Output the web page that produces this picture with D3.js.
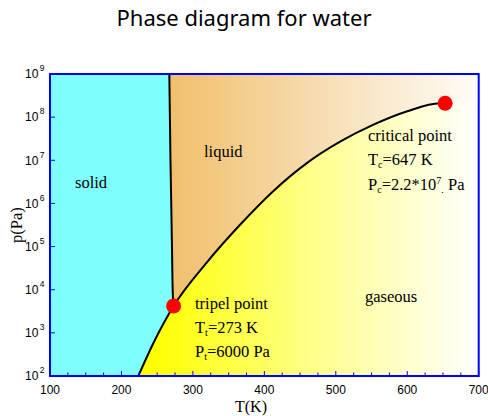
<!DOCTYPE html>
<html>
<head>
<meta charset="utf-8">
<script src="https://cdn.jsdelivr.net/npm/d3@7"></script>
<style>
  body { margin: 0; background: #fff; }
  svg { display: block; }
</style>
</head>
<body>
<svg width="488" height="416"></svg>
<script>
const width = 488;
const height = 416;

// values
const meltT = [267.0, 267.8, 268.6, 269.6, 270.8, 272.0, 273.0];
const meltP = [1e9, 1e8, 1e7, 1.2e6, 8e4, 7e3, 4200];

const vapT = [223.6, 244.6, 273.0, 319.0, 366.0, 412.0, 459.0, 506.0, 552.0, 599.0, 646.0, 653.0];
const vapP = [1e2, 575, 4200, 4.2e4, 3.2e5, 1.9e6, 8.5e6, 2.7e7, 6.6e7, 1.35e8, 2.1e8, 2.1e8];

const triple = {T: 273, p: 4200};
const critical = {T: 653, p: 2.1e8};

const xTicks = [100, 200, 300, 400, 500, 600, 700];
const xMinor = d3.range(100, 701, 25);
const yTicks = [1e2, 1e3, 1e4, 1e5, 1e6, 1e7, 1e8, 1e9];

const xScale = d3.scaleLinear()
    .domain([100, 700])
    .range([50, 478.7]);

const yScale = d3.scaleLog()
    .domain([1e2, 1e9])
    .range([376, 74]);

const svg = d3.select("svg");

// gradients
const defs = svg.append("defs");
const liqGrad = defs.append("linearGradient")
    .attr("id", "liqGrad")
    .attr("gradientUnits", "userSpaceOnUse")
    .attr("x1", xScale(270)).attr("x2", xScale(700))
    .attr("y1", 0).attr("y2", 0);
liqGrad.append("stop").attr("offset", 0).attr("stop-color", "#f0c06c");
liqGrad.append("stop").attr("offset", 0.5).attr("stop-color", "#f7deb4");
liqGrad.append("stop").attr("offset", 1).attr("stop-color", "#fffdf8");

const gasGrad = defs.append("linearGradient")
    .attr("id", "gasGrad")
    .attr("gradientUnits", "userSpaceOnUse")
    .attr("x1", xScale(240)).attr("x2", xScale(700))
    .attr("y1", 0).attr("y2", 0);
gasGrad.append("stop").attr("offset", 0).attr("stop-color", "#ffff00");
gasGrad.append("stop").attr("offset", 0.5).attr("stop-color", "#ffff8c");
gasGrad.append("stop").attr("offset", 1).attr("stop-color", "#ffffff");

const plot = svg.append("g");

// gaseous background
plot.append("rect")
    .attr("x", xScale(100))
    .attr("y", yScale(1e9))
    .attr("width", xScale(700) - xScale(100))
    .attr("height", yScale(1e2) - yScale(1e9))
    .attr("fill", "url(#gasGrad)");

// liquid: above vaporisation curve
const vapPts = vapT.map((t, i) => [t, vapP[i]]);
const liqPts = vapPts.concat([[700, critical.p]]);
plot.append("path")
    .datum(liqPts)
    .attr("fill", "url(#liqGrad)")
    .attr("d", d3.area()
        .x(d => xScale(d[0]))
        .y0(yScale(1e9))
        .y1(d => yScale(d[1]))
        .curve(d3.curveMonotoneX));

// solid: left of melting curve and of the low part of the vapour curve
const meltPts = meltT.map((t, i) => [t, meltP[i]]);
const subPts = vapPts.filter(d => d[0] <= triple.T);
const solidArea = d3.area()
    .y(d => yScale(d[1]))
    .x0(xScale(100))
    .x1(d => xScale(d[0]))
    .curve(d3.curveMonotoneY);
plot.append("path").datum(meltPts)
    .attr("fill", "#80ffff")
    .attr("d", solidArea);
plot.append("path").datum(subPts.slice().reverse())
    .attr("fill", "#80ffff")
    .attr("d", solidArea);

// boundary curves
plot.append("path")
    .datum(meltPts)
    .attr("fill", "none")
    .attr("stroke", "black")
    .attr("stroke-width", 2)
    .attr("d", d3.line()
        .x(d => xScale(d[0]))
        .y(d => yScale(d[1]))
        .curve(d3.curveMonotoneY));

plot.append("path")
    .datum(vapPts)
    .attr("fill", "none")
    .attr("stroke", "black")
    .attr("stroke-width", 2)
    .attr("d", d3.line()
        .x(d => xScale(d[0]))
        .y(d => yScale(d[1]))
        .curve(d3.curveMonotoneX));

// special points
plot.selectAll("circle.pt")
    .data([triple, critical])
    .enter().append("circle")
    .attr("class", "pt")
    .attr("cx", d => xScale(d.T))
    .attr("cy", d => yScale(d.p))
    .attr("r", 7.5)
    .attr("fill", "#ff0000");

// frame
svg.append("rect")
    .attr("x", xScale(100))
    .attr("y", yScale(1e9))
    .attr("width", xScale(700) - xScale(100))
    .attr("height", yScale(1e2) - yScale(1e9))
    .attr("fill", "none")
    .attr("stroke", "#0000ff")
    .attr("stroke-width", 2);

// ticks, pointing inwards
svg.append("g").selectAll("line")
    .data(xMinor)
    .enter().append("line")
    .attr("x1", d => xScale(d)).attr("x2", d => xScale(d))
    .attr("y1", yScale(1e2))
    .attr("y2", d => yScale(1e2) - (d % 100 === 0 ? 5 : 3.5))
    .attr("stroke", "#0000ff")
    .attr("stroke-width", 1);

svg.append("g").selectAll("line")
    .data(yTicks)
    .enter().append("line")
    .attr("x1", xScale(100)).attr("x2", xScale(100) + 5)
    .attr("y1", d => yScale(d)).attr("y2", d => yScale(d))
    .attr("stroke", "#0000ff")
    .attr("stroke-width", 1);

// tick labels
svg.append("g").selectAll("text")
    .data(xTicks)
    .enter().append("text")
    .attr("x", d => xScale(d))
    .attr("y", 393.5)
    .attr("text-anchor", "middle")
    .style("font-family", "'Liberation Sans', Arial, sans-serif")
    .style("font-size", "12px")
    .text(d => d);

const yLab = svg.append("g").selectAll("text")
    .data(yTicks)
    .enter().append("text")
    .attr("x", 25)
    .attr("y", d => yScale(d) + 4.3)
    .style("font-family", "'Liberation Sans', Arial, sans-serif")
    .style("font-size", "12px");
yLab.append("tspan").text("10");
yLab.append("tspan")
    .attr("dx", 1.5)
    .attr("dy", -7)
    .style("font-size", "8.5px")
    .text(d => Math.round(Math.log10(d)));

// title and axis labels
svg.append("text")
    .attr("x", 244)
    .attr("y", 26)
    .attr("text-anchor", "middle")
    .style("font-family", "'Noto Sans', sans-serif")
    .style("font-size", "22px")
    .text("Phase diagram for water");

const serif = "'Liberation Serif', 'Times New Roman', serif";

svg.append("text")
    .attr("x", 251)
    .attr("y", 412)
    .attr("text-anchor", "middle")
    .style("font-family", serif)
    .style("font-size", "16px")
    .text("T(K)");

svg.append("text")
    .attr("transform", "translate(22,225) rotate(-90)")
    .attr("text-anchor", "middle")
    .style("font-family", serif)
    .style("font-size", "16.5px")
    .text("p(Pa)");

// annotations
function label(x, y, parts) {
    const t = svg.append("text")
        .attr("x", x).attr("y", y)
        .style("font-family", serif)
        .style("font-size", "16.5px");
    parts.forEach(p => {
        const s = t.append("tspan").text(p.s);
        if (p.sub) s.style("font-size", "10px").attr("dy", 3);
        if (p.sup) s.style("font-size", "10px").attr("dy", -6);
        if (p.back) s.attr("dy", p.back);
    });
}

label(75, 188, [{s: "solid"}]);
label(204, 157, [{s: "liquid"}]);
label(365, 302, [{s: "gaseous"}]);

label(368, 141, [{s: "critical point"}]);
label(368, 165, [{s: "T"}, {s: "c", sub: true}, {s: "=647 K", back: -3}]);
label(368, 190, [{s: "P"}, {s: "c", sub: true}, {s: "=2.2*10", back: -3},
    {s: "7", sup: true}, {s: ".", sub: true, back: 9}, {s: " Pa", back: -3}]);

label(195, 309, [{s: "tripel point"}]);
label(195, 333, [{s: "T"}, {s: "t", sub: true}, {s: "=273 K", back: -3}]);
label(195, 357, [{s: "P"}, {s: "t", sub: true}, {s: "=6000 Pa", back: -3}]);
</script>
</body>
</html>
